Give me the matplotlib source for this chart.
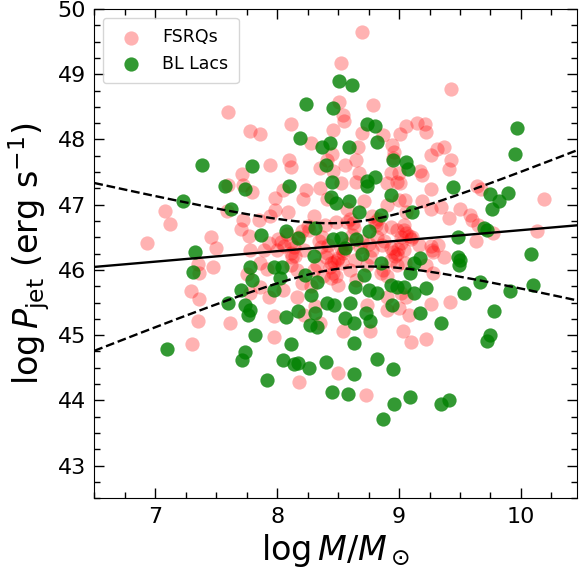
import numpy as np
import matplotlib
matplotlib.use("Agg")
import matplotlib.pyplot as plt
from matplotlib.ticker import MultipleLocator

# ---------------- data ----------------
fsrq_x = [7.60, 7.78, 8.70, 8.52, 8.51, 8.79, 8.54, 8.55, 8.11, 7.86, 8.46, 8.70, 8.87, 9.01, 9.06,
          8.28, 8.66, 8.94, 8.96, 8.45, 8.10, 8.41, 8.65, 8.95, 9.43, 9.15, 9.21, 9.22, 9.31, 9.37,
          9.26, 9.43, 7.71, 7.60, 7.72, 7.79, 7.59, 7.08, 7.12, 7.72, 7.70, 7.77, 6.93, 7.46, 7.50,
          7.35, 7.47, 7.36, 7.75, 7.29, 7.36, 7.78, 7.35, 7.61, 7.30, 7.97, 8.22, 8.35, 8.74, 8.54,
          8.76, 8.90, 9.00, 9.08, 9.03, 9.10, 7.97, 8.50, 8.18, 8.73, 9.26, 9.42, 9.22, 9.41, 9.19,
          9.17, 9.01, 9.26, 9.64, 9.67, 10.19, 9.05, 9.19, 9.26, 9.34, 9.50, 9.41, 9.58, 9.60, 9.65,
          9.77, 10.13, 9.63, 9.02, 9.06, 9.11, 9.04, 9.16, 9.26, 9.32, 9.28, 9.37, 9.22, 9.28, 9.04,
          9.06, 7.94, 8.11, 8.35, 8.46, 8.56, 8.67, 8.93, 9.00, 8.52, 8.65, 8.90, 8.98, 8.05, 8.24,
          8.35, 7.98, 8.21, 8.41, 8.57, 8.71, 9.00, 8.78, 8.90, 9.06, 7.98, 8.09, 7.85, 7.94, 8.30,
          8.26, 8.39, 8.48, 8.57, 8.63, 8.81, 8.85, 8.93, 8.98, 9.04, 8.01, 7.93, 8.11, 8.37, 8.42,
          8.61, 8.82, 8.93, 8.98, 9.02, 8.86, 7.78, 7.89, 8.00, 8.11, 8.22, 8.41, 8.49, 8.54, 8.76,
          8.74, 7.86, 7.92, 8.11, 8.16, 8.33, 8.44, 8.48, 8.60, 8.87, 8.98, 9.05, 7.86, 8.38, 8.50,
          8.65, 9.02, 8.16, 8.05, 8.31, 8.90, 7.93,
          8.03, 8.06, 8.12, 8.15, 8.50, 8.47, 8.53, 8.52, 8.55, 8.46, 8.44, 8.60, 8.62, 8.80, 8.83,
          8.95, 8.97, 8.93, 8.99, 9.08, 9.10, 9.27, 8.20, 8.25, 8.18, 8.70, 8.75, 8.68, 8.34, 8.20,
          8.28, 8.90, 8.85, 8.40, 8.43, 8.58, 8.64, 8.78, 8.88, 8.36, 8.30, 8.14, 8.08]
fsrq_y = [48.42, 48.13, 49.65, 49.17, 48.58, 48.53, 48.37, 48.29, 48.24, 48.09, 48.14, 48.10, 48.07, 48.09, 48.20,
          47.95, 47.89, 47.92, 47.81, 47.77, 47.68, 47.68, 47.68, 47.71, 48.77, 48.25, 48.24, 48.12, 47.85, 47.89,
          47.76, 47.69, 47.47, 47.30, 47.30, 47.20, 46.91, 46.90, 46.70, 46.77, 46.63, 46.52, 46.41, 46.50, 46.33,
          46.09, 46.04, 45.96, 45.94, 45.68, 45.55, 45.64, 45.22, 45.18, 44.86, 45.29, 45.31, 45.19, 45.46, 45.07,
          45.07, 45.39, 45.41, 45.31, 45.07, 44.90, 44.97, 44.42, 44.28, 44.09, 45.48, 45.51, 44.94, 47.54, 47.46,
          47.52, 47.33, 47.24, 47.29, 47.24, 47.08, 47.07, 47.06, 46.94, 46.97, 46.94, 46.79, 46.84, 46.77, 46.69,
          46.56, 46.60, 46.45, 46.51, 46.56, 46.51, 46.61, 46.38, 46.36, 46.38, 46.28, 46.20, 46.08, 45.95, 46.30,
          45.59, 47.61, 47.58, 47.56, 47.51, 47.61, 47.49, 47.48, 47.48, 47.33, 47.35, 47.33, 47.35, 47.23, 47.23,
          47.25, 47.10, 47.08, 47.08, 46.94, 47.05, 47.07, 46.82, 46.99, 46.89, 46.92, 46.89, 46.77, 46.82, 46.82,
          46.61, 46.69, 46.74, 46.74, 46.64, 46.69, 46.64, 46.66, 46.61, 46.69, 46.48, 46.41, 46.41, 46.51, 46.38,
          46.54, 46.51, 46.33, 46.25, 46.41, 46.38, 46.31, 46.31, 46.31, 46.26, 46.31, 46.26, 46.15, 46.26, 46.20,
          46.08, 46.10, 46.02, 46.08, 46.00, 46.08, 46.10, 45.90, 46.00, 46.00, 46.08, 46.10, 45.74, 45.90, 45.77,
          45.85, 45.64, 45.59, 45.69, 45.44, 45.59, 45.59,
          46.43, 46.36, 46.20, 46.22, 46.18, 46.12, 46.10, 46.33, 46.30, 45.95, 45.88, 46.78, 46.72, 46.74, 46.78,
          46.28, 46.22, 46.16, 46.32, 46.52, 46.48, 46.30, 46.60, 46.68, 46.50, 46.45, 46.40, 46.35, 46.45, 45.80,
          45.75, 45.90, 45.95, 46.20, 46.05, 46.40, 46.15, 46.30, 46.45, 46.35, 46.00, 46.35, 46.55]

bll_x = [7.38, 7.79, 8.51, 8.61, 8.24, 8.46, 8.74, 8.80, 8.19, 8.37, 8.43, 8.59, 8.82, 8.95, 9.06,
         9.07, 9.97, 9.95, 7.57, 7.74, 7.23, 7.62, 7.33, 7.31, 7.78, 7.79, 7.70, 7.60, 7.74, 7.78,
         7.76, 7.82, 7.10, 7.74, 7.71, 8.07, 8.17, 8.31, 8.27, 8.33, 8.41, 8.47, 8.60, 8.56, 8.63,
         8.73, 8.76, 8.94, 8.11, 8.63, 8.05, 8.14, 8.17, 8.26, 8.40, 8.82, 8.95, 8.63, 7.92, 8.45,
         8.58, 8.96, 9.09, 8.87, 9.17, 9.34, 9.78, 9.75, 9.72, 9.34, 9.41, 9.44, 9.75, 9.89, 9.82,
         9.76, 9.11, 9.70, 9.72, 9.48, 10.08, 9.48, 9.50, 9.49, 9.17, 9.12, 9.09, 9.04, 9.12, 9.22,
         9.53, 9.66, 9.91, 10.10, 8.40, 8.45, 8.74, 8.80, 8.74, 8.10, 8.44, 8.48, 8.59, 8.67, 8.93,
         8.85, 8.31, 7.87, 8.07, 8.17, 8.46, 8.52, 8.65, 8.75, 8.56, 8.30, 8.70, 8.85, 7.97, 8.04,
         8.71, 8.02, 7.97, 8.23, 8.33, 8.64, 8.75, 8.82, 8.93, 8.98, 8.28]
bll_y = [47.61, 47.59, 48.90, 48.83, 48.54, 48.49, 48.24, 48.20, 48.03, 47.89, 47.94, 47.89, 47.96, 47.68, 47.65,
         47.54, 48.17, 47.78, 47.28, 47.24, 47.05, 46.93, 46.27, 45.97, 46.05, 45.85, 45.70, 45.49, 45.46, 45.39,
         45.31, 45.01, 44.79, 44.74, 44.62, 45.28, 45.37, 45.34, 45.16, 45.12, 45.49, 45.46, 45.49, 45.26, 45.18,
         45.34, 45.22, 45.46, 44.86, 44.88, 44.62, 44.56, 44.57, 44.50, 44.59, 44.63, 44.48, 44.41, 44.31, 44.13,
         44.10, 43.94, 44.06, 43.72, 45.34, 45.18, 45.37, 45.00, 44.91, 43.94, 44.01, 47.27, 47.16, 47.18, 47.06,
         46.94, 46.89, 46.64, 46.61, 46.51, 46.25, 46.20, 46.15, 46.08, 46.18, 46.10, 45.95, 45.74, 45.64, 45.72,
         45.65, 45.81, 45.67, 45.77, 47.61, 47.35, 47.37, 47.43, 47.28, 47.28, 47.12, 47.03, 47.05, 46.89, 47.15,
         46.84, 46.64, 46.54, 46.59, 46.49, 46.47, 46.49, 46.47, 46.59, 46.33, 46.21, 46.25, 46.10, 46.05, 46.05,
         45.92, 45.87, 45.69, 45.92, 45.82, 45.74, 45.69, 45.64, 45.77, 45.74, 45.62]

# regression line and band parameters
fit_intercept = 45.0
fit_slope = 0.161
band_x0 = 8.6
band_w0 = 0.345
band_k = 0.59

# ---------------- plot ----------------
fig = plt.figure(figsize=(5.79, 5.73), dpi=100)
ax = fig.add_axes([0.1629, 0.1304, 0.8337, 0.8539])

ax.scatter(fsrq_x, fsrq_y, s=105, color='red', alpha=0.3, linewidths=0, label='FSRQs', zorder=2)
ax.scatter(bll_x, bll_y, s=105, color='green', alpha=0.8, linewidths=0, label='BL Lacs', zorder=3)

xx = np.linspace(6.5, 10.5, 200)
yfit = fit_intercept + fit_slope * xx
half = np.sqrt(band_w0**2 + (band_k * (xx - band_x0))**2)
ax.plot(xx, yfit, color='black', lw=1.7, zorder=4)
ax.plot(xx, yfit + half, color='black', lw=1.7, ls='--', zorder=4)
ax.plot(xx, yfit - half, color='black', lw=1.7, ls='--', zorder=4)

ax.set_xlim(6.5, 10.46)
ax.set_ylim(42.5, 50)
ax.xaxis.set_major_locator(MultipleLocator(1))
ax.xaxis.set_minor_locator(MultipleLocator(0.25))
ax.yaxis.set_major_locator(MultipleLocator(1))
ax.yaxis.set_minor_locator(MultipleLocator(0.25))
ax.tick_params(which='both', direction='in', top=True, right=True, labelsize=16, pad=6)
ax.tick_params(which='major', length=7, width=1)
ax.tick_params(which='minor', length=4, width=1)

ax.set_xlabel(r'$\log M/M_\odot$', fontsize=24)
ax.set_ylabel(r'$\log P_{\rm jet}$ (erg s$^{-1}$)', fontsize=24)

ax.legend(loc='upper left', fontsize=12.5, borderpad=0.6, handletextpad=0.8)

fig.savefig('out.png', dpi=100)
